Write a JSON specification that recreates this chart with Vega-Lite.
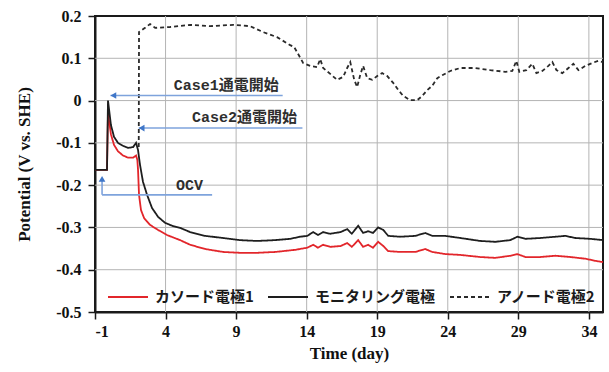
{
  "$schema": "https://vega.github.io/schema/vega-lite/v6.json",
  "width": 508,
  "height": 296,
  "autosize": "none",
  "padding": {"left": 95, "top": 16, "right": 6, "bottom": 60},
  "background": "white",
  "datasets": {
    "grid": [
      {"day": 4, "v": -0.5, "day2": 4, "v2": 0.2},
      {"day": 9, "v": -0.5, "day2": 9, "v2": 0.2},
      {"day": 14, "v": -0.5, "day2": 14, "v2": 0.2},
      {"day": 19, "v": -0.5, "day2": 19, "v2": 0.2},
      {"day": 24, "v": -0.5, "day2": 24, "v2": 0.2},
      {"day": 29, "v": -0.5, "day2": 29, "v2": 0.2},
      {"day": 34, "v": -0.5, "day2": 34, "v2": 0.2},
      {"day": -1, "v": -0.4, "day2": 35, "v2": -0.4},
      {"day": -1, "v": -0.3, "day2": 35, "v2": -0.3},
      {"day": -1, "v": -0.2, "day2": 35, "v2": -0.2},
      {"day": -1, "v": -0.1, "day2": 35, "v2": -0.1},
      {"day": -1, "v": 0, "day2": 35, "v2": 0},
      {"day": -1, "v": 0.1, "day2": 35, "v2": 0.1}
    ],
    "series": [
      {"s": "カソード電極1", "day": -1, "v": -0.164},
      {"s": "カソード電極1", "day": -0.15, "v": -0.164},
      {"s": "カソード電極1", "day": -0.08, "v": -0.03},
      {"s": "カソード電極1", "day": 0.13, "v": -0.08},
      {"s": "カソード電極1", "day": 0.35, "v": -0.105},
      {"s": "カソード電極1", "day": 0.63, "v": -0.12},
      {"s": "カソード電極1", "day": 0.99, "v": -0.13},
      {"s": "カソード電極1", "day": 1.34, "v": -0.135},
      {"s": "カソード電極1", "day": 1.7, "v": -0.135},
      {"s": "カソード電極1", "day": 1.91, "v": -0.13},
      {"s": "カソード電極1", "day": 2.0, "v": -0.14},
      {"s": "カソード電極1", "day": 2.05, "v": -0.164},
      {"s": "カソード電極1", "day": 2.12, "v": -0.223},
      {"s": "カソード電極1", "day": 2.26, "v": -0.259},
      {"s": "カソード電極1", "day": 2.48, "v": -0.278},
      {"s": "カソード電極1", "day": 2.9, "v": -0.294},
      {"s": "カソード電極1", "day": 3.47, "v": -0.306},
      {"s": "カソード電極1", "day": 4.1, "v": -0.318},
      {"s": "カソード電極1", "day": 5.03, "v": -0.33},
      {"s": "カソード電極1", "day": 5.74, "v": -0.341},
      {"s": "カソード電極1", "day": 6.8, "v": -0.351},
      {"s": "カソード電極1", "day": 8.08, "v": -0.358},
      {"s": "カソード電極1", "day": 9.28, "v": -0.36},
      {"s": "カソード電極1", "day": 10.49, "v": -0.36},
      {"s": "カソード電極1", "day": 11.77, "v": -0.358},
      {"s": "カソード電極1", "day": 13.18, "v": -0.353},
      {"s": "カソード電極1", "day": 14.04, "v": -0.348},
      {"s": "カソード電極1", "day": 14.46, "v": -0.341},
      {"s": "カソード電極1", "day": 14.8, "v": -0.348},
      {"s": "カソード電極1", "day": 15.17, "v": -0.341},
      {"s": "カソード電極1", "day": 15.67, "v": -0.346},
      {"s": "カソード電極1", "day": 16.4, "v": -0.344},
      {"s": "カソード電極1", "day": 16.87, "v": -0.337},
      {"s": "カソード電極1", "day": 17.2, "v": -0.346},
      {"s": "カソード電極1", "day": 17.65, "v": -0.33},
      {"s": "カソード電極1", "day": 18.0, "v": -0.346},
      {"s": "カソード電極1", "day": 18.36, "v": -0.341},
      {"s": "カソード電極1", "day": 18.7, "v": -0.348},
      {"s": "カソード電極1", "day": 19.07, "v": -0.334},
      {"s": "カソード電極1", "day": 19.43, "v": -0.344},
      {"s": "カソード電極1", "day": 19.78, "v": -0.356},
      {"s": "カソード電極1", "day": 20.63, "v": -0.358},
      {"s": "カソード電極1", "day": 21.7, "v": -0.358},
      {"s": "カソード電極1", "day": 22.4, "v": -0.351},
      {"s": "カソード電極1", "day": 22.9, "v": -0.358},
      {"s": "カソード電極1", "day": 23.82, "v": -0.363},
      {"s": "カソード電極1", "day": 24.89, "v": -0.365},
      {"s": "カソード電極1", "day": 26.3, "v": -0.37},
      {"s": "カソード電極1", "day": 27.37, "v": -0.372},
      {"s": "カソード電極1", "day": 28.43, "v": -0.367},
      {"s": "カソード電極1", "day": 28.93, "v": -0.363},
      {"s": "カソード電極1", "day": 29.5, "v": -0.37},
      {"s": "カソード電極1", "day": 30.56, "v": -0.37},
      {"s": "カソード電極1", "day": 31.62, "v": -0.367},
      {"s": "カソード電極1", "day": 32.7, "v": -0.37},
      {"s": "カソード電極1", "day": 33.75, "v": -0.374},
      {"s": "カソード電極1", "day": 34.46, "v": -0.379},
      {"s": "カソード電極1", "day": 35.0, "v": -0.382},

      {"s": "モニタリング電極", "day": -1, "v": -0.164},
      {"s": "モニタリング電極", "day": -0.15, "v": -0.164},
      {"s": "モニタリング電極", "day": -0.08, "v": 0.0},
      {"s": "モニタリング電極", "day": 0.13, "v": -0.058},
      {"s": "モニタリング電極", "day": 0.35, "v": -0.086},
      {"s": "モニタリング電極", "day": 0.63, "v": -0.1},
      {"s": "モニタリング電極", "day": 0.99, "v": -0.107},
      {"s": "モニタリング電極", "day": 1.34, "v": -0.112},
      {"s": "モニタリング電極", "day": 1.7, "v": -0.11},
      {"s": "モニタリング電極", "day": 1.91, "v": -0.1},
      {"s": "モニタリング電極", "day": 2.05, "v": -0.117},
      {"s": "モニタリング電極", "day": 2.19, "v": -0.152},
      {"s": "モニタリング電極", "day": 2.4, "v": -0.192},
      {"s": "モニタリング電極", "day": 2.69, "v": -0.223},
      {"s": "モニタリング電極", "day": 3.04, "v": -0.254},
      {"s": "モニタリング電極", "day": 3.47, "v": -0.275},
      {"s": "モニタリング電極", "day": 3.96, "v": -0.289},
      {"s": "モニタリング電極", "day": 4.46, "v": -0.296},
      {"s": "モニタリング電極", "day": 5.03, "v": -0.301},
      {"s": "モニタリング電極", "day": 5.74, "v": -0.311},
      {"s": "モニタリング電極", "day": 6.8, "v": -0.32},
      {"s": "モニタリング電極", "day": 8.08, "v": -0.325},
      {"s": "モニタリング電極", "day": 9.28, "v": -0.33},
      {"s": "モニタリング電極", "day": 10.49, "v": -0.332},
      {"s": "モニタリング電極", "day": 11.77, "v": -0.33},
      {"s": "モニタリング電極", "day": 12.83, "v": -0.327},
      {"s": "モニタリング電極", "day": 13.54, "v": -0.322},
      {"s": "モニタリング電極", "day": 14.04, "v": -0.32},
      {"s": "モニタリング電極", "day": 14.46, "v": -0.311},
      {"s": "モニタリング電極", "day": 14.8, "v": -0.318},
      {"s": "モニタリング電極", "day": 15.17, "v": -0.311},
      {"s": "モニタリング電極", "day": 15.67, "v": -0.315},
      {"s": "モニタリング電極", "day": 16.4, "v": -0.311},
      {"s": "モニタリング電極", "day": 16.87, "v": -0.304},
      {"s": "モニタリング電極", "day": 17.2, "v": -0.315},
      {"s": "モニタリング電極", "day": 17.65, "v": -0.296},
      {"s": "モニタリング電極", "day": 18.0, "v": -0.313},
      {"s": "モニタリング電極", "day": 18.36, "v": -0.309},
      {"s": "モニタリング電極", "day": 18.7, "v": -0.313},
      {"s": "モニタリング電極", "day": 19.07, "v": -0.3},
      {"s": "モニタリング電極", "day": 19.43, "v": -0.306},
      {"s": "モニタリング電極", "day": 19.78, "v": -0.32},
      {"s": "モニタリング電極", "day": 20.63, "v": -0.322},
      {"s": "モニタリング電極", "day": 21.7, "v": -0.32},
      {"s": "モニタリング電極", "day": 22.4, "v": -0.313},
      {"s": "モニタリング電極", "day": 22.9, "v": -0.32},
      {"s": "モニタリング電極", "day": 23.82, "v": -0.32},
      {"s": "モニタリング電極", "day": 24.89, "v": -0.325},
      {"s": "モニタリング電極", "day": 26.3, "v": -0.332},
      {"s": "モニタリング電極", "day": 27.37, "v": -0.334},
      {"s": "モニタリング電極", "day": 28.43, "v": -0.33},
      {"s": "モニタリング電極", "day": 28.93, "v": -0.322},
      {"s": "モニタリング電極", "day": 29.5, "v": -0.327},
      {"s": "モニタリング電極", "day": 30.56, "v": -0.325},
      {"s": "モニタリング電極", "day": 31.62, "v": -0.322},
      {"s": "モニタリング電極", "day": 32.33, "v": -0.32},
      {"s": "モニタリング電極", "day": 33.04, "v": -0.325},
      {"s": "モニタリング電極", "day": 34.1, "v": -0.327},
      {"s": "モニタリング電極", "day": 35.0, "v": -0.33},

      {"s": "アノード電極2", "day": 2.1, "v": -0.11},
      {"s": "アノード電極2", "day": 2.12, "v": 0.162},
      {"s": "アノード電極2", "day": 2.55, "v": 0.172},
      {"s": "アノード電極2", "day": 2.9, "v": 0.181},
      {"s": "アノード電極2", "day": 3.26, "v": 0.172},
      {"s": "アノード電極2", "day": 4.32, "v": 0.174},
      {"s": "アノード電極2", "day": 5.74, "v": 0.179},
      {"s": "アノード電極2", "day": 7.16, "v": 0.176},
      {"s": "アノード電極2", "day": 8.79, "v": 0.179},
      {"s": "アノード電極2", "day": 9.99, "v": 0.176},
      {"s": "アノード電極2", "day": 10.91, "v": 0.162},
      {"s": "アノード電極2", "day": 11.9, "v": 0.15},
      {"s": "アノード電極2", "day": 12.83, "v": 0.131},
      {"s": "アノード電極2", "day": 13.11, "v": 0.127},
      {"s": "アノード電極2", "day": 13.75, "v": 0.089},
      {"s": "アノード電極2", "day": 14.25, "v": 0.082},
      {"s": "アノード電極2", "day": 14.74, "v": 0.079},
      {"s": "アノード電極2", "day": 14.96, "v": 0.098},
      {"s": "アノード電極2", "day": 15.17, "v": 0.077},
      {"s": "アノード電極2", "day": 15.67, "v": 0.063},
      {"s": "アノード電極2", "day": 16.16, "v": 0.049},
      {"s": "アノード電極2", "day": 16.59, "v": 0.056},
      {"s": "アノード電極2", "day": 16.87, "v": 0.077},
      {"s": "アノード電極2", "day": 17.09, "v": 0.091},
      {"s": "アノード電極2", "day": 17.37, "v": 0.049},
      {"s": "アノード電極2", "day": 17.58, "v": 0.032},
      {"s": "アノード電極2", "day": 17.79, "v": 0.06},
      {"s": "アノード電極2", "day": 18.0, "v": 0.082},
      {"s": "アノード電極2", "day": 18.29, "v": 0.053},
      {"s": "アノード電極2", "day": 18.65, "v": 0.049},
      {"s": "アノード電極2", "day": 19.0, "v": 0.058},
      {"s": "アノード電極2", "day": 19.35, "v": 0.065},
      {"s": "アノード電極2", "day": 19.71, "v": 0.058},
      {"s": "アノード電極2", "day": 20.13, "v": 0.042},
      {"s": "アノード電極2", "day": 20.49, "v": 0.025},
      {"s": "アノード電極2", "day": 20.84, "v": 0.011},
      {"s": "アノード電極2", "day": 21.34, "v": 0.001},
      {"s": "アノード電極2", "day": 21.84, "v": 0.001},
      {"s": "アノード電極2", "day": 22.19, "v": 0.011},
      {"s": "アノード電極2", "day": 22.55, "v": 0.025},
      {"s": "アノード電極2", "day": 22.9, "v": 0.035},
      {"s": "アノード電極2", "day": 23.26, "v": 0.053},
      {"s": "アノード電極2", "day": 23.61, "v": 0.06},
      {"s": "アノード電極2", "day": 24.18, "v": 0.07},
      {"s": "アノード電極2", "day": 24.89, "v": 0.077},
      {"s": "アノード電極2", "day": 25.95, "v": 0.077},
      {"s": "アノード電極2", "day": 27.01, "v": 0.072},
      {"s": "アノード電極2", "day": 28.08, "v": 0.068},
      {"s": "アノード電極2", "day": 28.57, "v": 0.07},
      {"s": "アノード電極2", "day": 28.86, "v": 0.094},
      {"s": "アノード電極2", "day": 29.07, "v": 0.068},
      {"s": "アノード電極2", "day": 29.57, "v": 0.072},
      {"s": "アノード電極2", "day": 29.99, "v": 0.087},
      {"s": "アノード電極2", "day": 30.28, "v": 0.065},
      {"s": "アノード電極2", "day": 30.7, "v": 0.07},
      {"s": "アノード電極2", "day": 31.13, "v": 0.082},
      {"s": "アノード電極2", "day": 31.41, "v": 0.091},
      {"s": "アノード電極2", "day": 31.7, "v": 0.072},
      {"s": "アノード電極2", "day": 32.12, "v": 0.065},
      {"s": "アノード電極2", "day": 32.55, "v": 0.077},
      {"s": "アノード電極2", "day": 32.9, "v": 0.087},
      {"s": "アノード電極2", "day": 33.26, "v": 0.072},
      {"s": "アノード電極2", "day": 33.75, "v": 0.082},
      {"s": "アノード電極2", "day": 34.25, "v": 0.089},
      {"s": "アノード電極2", "day": 34.67, "v": 0.094},
      {"s": "アノード電極2", "day": 35.0, "v": 0.091}
    ],
    "arrows": [
      {"day": 0.1, "v": 0.012, "day2": 12.3, "v2": 0.012},
      {"day": 2.1, "v": -0.065, "day2": 13.7, "v2": -0.065},
      {"day": -0.5, "v": -0.19, "day2": -0.5, "v2": -0.223},
      {"day": -0.5, "v": -0.223, "day2": 7.3, "v2": -0.223}
    ],
    "heads": [
      {"day": 0.3, "v": 0.012, "shape": "triangle-left"},
      {"day": 2.3, "v": -0.065, "shape": "triangle-left"},
      {"day": -0.5, "v": -0.185, "shape": "triangle-up"}
    ],
    "labels": [
      {"day": 8.3, "v": 0.037, "t": "Case1通電開始"},
      {"day": 9.6, "v": -0.039, "t": "Case2通電開始"},
      {"day": 5.7, "v": -0.2, "t": "OCV"}
    ]
  },
  "encoding": {
    "x": {
      "field": "day", "type": "quantitative",
      "scale": {"domain": [-1, 35], "nice": false, "zero": false},
      "axis": {
        "title": "Time (day)",
        "grid": false,
        "values": [-1, 4, 9, 14, 19, 24, 29, 34],
        "labelExpr": "replace(format(datum.value, 'd'), '−', '-')"
      }
    },
    "y": {
      "field": "v", "type": "quantitative",
      "scale": {"domain": [-0.5, 0.2], "nice": false, "zero": false},
      "axis": {
        "title": "Potential (V vs. SHE)",
        "grid": false,
        "values": [-0.5, -0.4, -0.3, -0.2, -0.1, 0, 0.1, 0.2],
        "labelExpr": "abs(datum.value) < 0.001 ? '0' : replace(format(datum.value, '.1f'), '−', '-')"
      }
    }
  },
  "layer": [
    {
      "data": {"name": "grid"},
      "mark": {"type": "rule", "color": "#b4b4b4", "strokeWidth": 1},
      "encoding": {
        "x2": {"field": "day2"},
        "y2": {"field": "v2"}
      }
    },
    {
      "data": {"name": "series"},
      "mark": {"type": "line", "strokeWidth": 1.8},
      "encoding": {
        "color": {
          "field": "s", "type": "nominal",
          "scale": {"domain": ["カソード電極1", "モニタリング電極", "アノード電極2"], "range": ["#e2262b", "#1e1e1e", "#2a2a2a"]},
          "legend": {"title": null}
        },
        "strokeDash": {
          "field": "s", "type": "nominal",
          "scale": {"domain": ["カソード電極1", "モニタリング電極", "アノード電極2"], "range": [[1, 0], [1, 0], [4, 3]]},
          "legend": {"title": null}
        }
      }
    },
    {
      "data": {"name": "arrows"},
      "mark": {"type": "rule", "color": "#7ea3dc", "strokeWidth": 1.6},
      "encoding": {
        "x2": {"field": "day2"},
        "y2": {"field": "v2"}
      }
    },
    {
      "data": {"name": "heads"},
      "mark": {"type": "point", "filled": true, "color": "#3f76c8", "size": 45, "opacity": 1},
      "encoding": {
        "shape": {"field": "shape", "type": "nominal", "scale": null}
      }
    },
    {
      "data": {"name": "labels"},
      "mark": {"type": "text", "font": "Liberation Mono, Noto Sans CJK JP", "fontSize": 15, "fontWeight": "bold", "color": "#2e2e2e"},
      "encoding": {
        "text": {"field": "t", "type": "nominal"}
      }
    }
  ],
  "config": {
    "view": {"stroke": "#1a1a1a", "strokeWidth": 2},
    "axis": {
      "labelFont": "Liberation Serif",
      "labelFontSize": 16,
      "labelFontWeight": "bold",
      "labelColor": "#111111",
      "titleFont": "Liberation Serif",
      "titleFontSize": 17,
      "titleFontWeight": "bold",
      "titleColor": "#111111",
      "domainColor": "#1a1a1a",
      "domainWidth": 2,
      "tickColor": "#1a1a1a",
      "tickWidth": 1.5,
      "tickSize": 7
    },
    "axisX": {"labelPadding": 4, "titlePadding": 6},
    "axisY": {"labelPadding": 7, "titlePadding": 22},
    "legend": {
      "orient": "none",
      "legendX": 12,
      "legendY": 260,
      "direction": "horizontal",
      "padding": 0,
      "symbolType": "stroke",
      "symbolSize": 1600,
      "symbolStrokeWidth": 2,
      "labelFont": "Noto Sans CJK JP",
      "labelFontSize": 15,
      "labelFontWeight": "bold",
      "labelColor": "#1a1a1a",
      "labelOffset": 6,
      "columnPadding": 10,
      "labelLimit": 200
    }
  }
}
